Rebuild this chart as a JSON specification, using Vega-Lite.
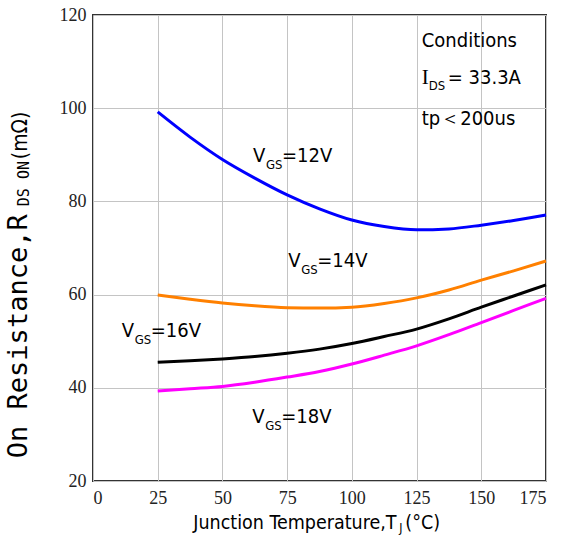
{
  "$schema": "https://vega.github.io/schema/vega-lite/v6.json",
  "width": 453,
  "height": 466,
  "autosize": {"type": "none"},
  "padding": {"left": 93, "top": 15, "right": 17, "bottom": 56},
  "background": "white",
  "config": {
    "view": {"stroke": "#333333", "strokeWidth": 2},
    "axis": {
      "grid": true,
      "gridColor": "#c4c4c4",
      "gridWidth": 1,
      "domain": false,
      "ticks": false,
      "labelFont": "Liberation Serif",
      "labelFontSize": 18,
      "labelColor": "#222222",
      "title": null
    }
  },
  "datasets": {
    "curves": [
      {"T": 25, "R": 99.2, "s": "12V"}, {"T": 37.5, "R": 93.8, "s": "12V"}, {"T": 50, "R": 89.0, "s": "12V"}, {"T": 62.5, "R": 85.0, "s": "12V"}, {"T": 75, "R": 81.4, "s": "12V"}, {"T": 87.5, "R": 78.4, "s": "12V"}, {"T": 100, "R": 76.0, "s": "12V"}, {"T": 112.5, "R": 74.6, "s": "12V"}, {"T": 125, "R": 73.9, "s": "12V"}, {"T": 137.5, "R": 74.1, "s": "12V"}, {"T": 150, "R": 74.9, "s": "12V"}, {"T": 162.5, "R": 75.9, "s": "12V"}, {"T": 175, "R": 77.1, "s": "12V"},
      {"T": 25, "R": 59.9, "s": "14V"}, {"T": 37.5, "R": 59.0, "s": "14V"}, {"T": 50, "R": 58.2, "s": "14V"}, {"T": 62.5, "R": 57.6, "s": "14V"}, {"T": 75, "R": 57.2, "s": "14V"}, {"T": 87.5, "R": 57.1, "s": "14V"}, {"T": 100, "R": 57.3, "s": "14V"}, {"T": 112.5, "R": 58.1, "s": "14V"}, {"T": 125, "R": 59.3, "s": "14V"}, {"T": 137.5, "R": 61.0, "s": "14V"}, {"T": 150, "R": 63.1, "s": "14V"}, {"T": 162.5, "R": 65.1, "s": "14V"}, {"T": 175, "R": 67.2, "s": "14V"},
      {"T": 25, "R": 45.5, "s": "16V"}, {"T": 37.5, "R": 45.8, "s": "16V"}, {"T": 50, "R": 46.2, "s": "16V"}, {"T": 62.5, "R": 46.7, "s": "16V"}, {"T": 75, "R": 47.4, "s": "16V"}, {"T": 87.5, "R": 48.3, "s": "16V"}, {"T": 100, "R": 49.5, "s": "16V"}, {"T": 112.5, "R": 51.0, "s": "16V"}, {"T": 125, "R": 52.6, "s": "16V"}, {"T": 137.5, "R": 54.8, "s": "16V"}, {"T": 150, "R": 57.3, "s": "16V"}, {"T": 162.5, "R": 59.7, "s": "16V"}, {"T": 175, "R": 62.1, "s": "16V"},
      {"T": 25, "R": 39.3, "s": "18V"}, {"T": 37.5, "R": 39.8, "s": "18V"}, {"T": 50, "R": 40.3, "s": "18V"}, {"T": 62.5, "R": 41.2, "s": "18V"}, {"T": 75, "R": 42.3, "s": "18V"}, {"T": 87.5, "R": 43.5, "s": "18V"}, {"T": 100, "R": 45.1, "s": "18V"}, {"T": 112.5, "R": 47.0, "s": "18V"}, {"T": 125, "R": 49.0, "s": "18V"}, {"T": 137.5, "R": 51.4, "s": "18V"}, {"T": 150, "R": 54.0, "s": "18V"}, {"T": 162.5, "R": 56.6, "s": "18V"}, {"T": 175, "R": 59.2, "s": "18V"}
    ],
    "labels": [
      {"T": 61.8, "R": 88.4, "v": "=12V"},
      {"T": 75.4, "R": 66.0, "v": "=14V"},
      {"T": 11.1, "R": 51.0, "v": "=16V"},
      {"T": 61.5, "R": 32.4, "v": "=18V"}
    ],
    "conditions": [
      {"T": 127.0, "R": 113.1, "t": "Conditions"},
      {"T": 127.0, "R": 96.4, "t": "tp＜200us"}
    ],
    "ids": [{"T": 127.0, "R": 105.3}],
    "ytitle": [{"T": -25.5, "R": 24.9}],
    "xtitle": [{"T": 38.75, "R": 9.8}]
  },
  "encoding": {
    "x": {"field": "T", "type": "quantitative", "scale": {"domain": [0, 175], "nice": false, "zero": false}, "axis": {"values": [0, 25, 50, 75, 100, 125, 150, 175], "labelPadding": 8}},
    "y": {"field": "R", "type": "quantitative", "scale": {"domain": [20, 120], "nice": false, "zero": false}, "axis": {"values": [20, 40, 60, 80, 100, 120], "labelPadding": 7}}
  },
  "layer": [
    {
      "data": {"name": "curves"},
      "mark": {"type": "line", "strokeWidth": 3, "interpolate": "monotone"},
      "encoding": {
        "color": {"field": "s", "type": "nominal", "legend": null, "scale": {"domain": ["12V", "14V", "16V", "18V"], "range": ["#0000ff", "#ff8000", "#000000", "#ff00ff"]}}
      }
    },
    {
      "data": {"name": "labels"},
      "mark": {"type": "text", "text": "V", "align": "left", "baseline": "alphabetic", "font": "DejaVu Sans Condensed", "fontSize": 20, "color": "black"}
    },
    {
      "data": {"name": "labels"},
      "mark": {"type": "text", "text": "GS", "align": "left", "baseline": "alphabetic", "font": "DejaVu Sans Condensed", "fontSize": 13, "dx": 13, "dy": 7, "color": "black"}
    },
    {
      "data": {"name": "labels"},
      "mark": {"type": "text", "align": "left", "baseline": "alphabetic", "font": "DejaVu Sans Condensed", "fontSize": 20, "dx": 29, "color": "black"},
      "encoding": {"text": {"field": "v"}}
    },
    {
      "data": {"name": "conditions"},
      "mark": {"type": "text", "align": "left", "baseline": "alphabetic", "font": "DejaVu Sans Condensed", "fontSize": 20, "color": "black"},
      "encoding": {"text": {"field": "t"}}
    },
    {
      "data": {"name": "ids"},
      "mark": {"type": "text", "text": "I", "align": "left", "baseline": "alphabetic", "font": "Liberation Serif", "fontSize": 21, "color": "black"}
    },
    {
      "data": {"name": "ids"},
      "mark": {"type": "text", "text": "DS", "align": "left", "baseline": "alphabetic", "font": "DejaVu Sans Condensed", "fontSize": 13, "dx": 7, "dy": 6, "color": "black"}
    },
    {
      "data": {"name": "ids"},
      "mark": {"type": "text", "text": "= 33.3A", "align": "left", "baseline": "alphabetic", "font": "DejaVu Sans Condensed", "fontSize": 20, "dx": 26, "color": "black"}
    },
    {
      "data": {"name": "ytitle"},
      "mark": {"type": "text", "text": "On Resistance,R", "angle": 270, "align": "left", "baseline": "alphabetic", "font": "DejaVu Sans Mono", "fontSize": 27, "color": "black"}
    },
    {
      "data": {"name": "ytitle"},
      "mark": {"type": "text", "text": "DS ON", "angle": 270, "align": "left", "baseline": "alphabetic", "font": "DejaVu Sans Mono", "fontSize": 15, "dx": 252, "dy": 2, "color": "black"}
    },
    {
      "data": {"name": "ytitle"},
      "mark": {"type": "text", "text": "(mΩ)", "angle": 270, "align": "left", "baseline": "alphabetic", "font": "DejaVu Sans Condensed", "fontSize": 21, "dx": 299, "color": "black"}
    },
    {
      "data": {"name": "xtitle"},
      "mark": {"type": "text", "text": "Junction Temperature,T", "align": "left", "baseline": "alphabetic", "font": "DejaVu Sans Condensed", "fontSize": 19.5, "color": "black"}
    },
    {
      "data": {"name": "xtitle"},
      "mark": {"type": "text", "text": "J", "align": "left", "baseline": "alphabetic", "font": "DejaVu Sans Condensed", "fontSize": 12, "dx": 206, "dy": 3, "color": "black"}
    },
    {
      "data": {"name": "xtitle"},
      "mark": {"type": "text", "text": "(°C)", "align": "left", "baseline": "alphabetic", "font": "DejaVu Sans Condensed", "fontSize": 19.5, "dx": 212, "color": "black"}
    }
  ]
}
